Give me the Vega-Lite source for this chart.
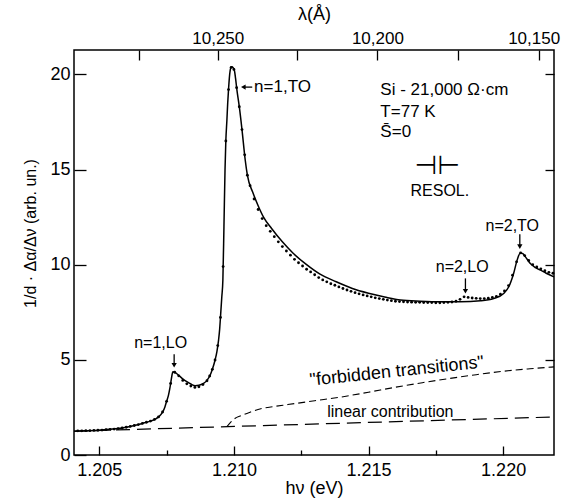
{
"$schema": "https://vega.github.io/schema/vega-lite/v6.json",
"width": 480, "height": 405,
"autosize": "none",
"padding": {"left": 74, "top": 50, "right": 7, "bottom": 46},
"background": "white",
"config": {
  "view": {"stroke": "black", "strokeWidth": 1.5},
  "font": "Liberation Sans",
  "axis": {"domain": false, "grid": false, "labelFont": "Liberation Sans", "labelFontSize": 18, "labelColor": "black", "tickColor": "black", "tickWidth": 1.3, "titleFont": "Liberation Sans", "titleFontSize": 18, "titleFontWeight": "normal", "titleColor": "black"},
  "text": {"font": "Liberation Sans", "fontSize": 16, "color": "black"}
},
"datasets": {
  "theory": [
    {"E":1.20406,"A":1.25},{"E":1.2045,"A":1.27},{"E":1.2050,"A":1.30},{"E":1.2055,"A":1.36},{"E":1.2060,"A":1.46},{"E":1.2063,"A":1.55},{"E":1.2066,"A":1.66},{"E":1.2069,"A":1.78},{"E":1.2071,"A":1.90},{"E":1.2072,"A":2.00},{"E":1.2073,"A":2.15},{"E":1.20738,"A":2.33},{"E":1.20744,"A":2.54},{"E":1.2075,"A":2.82},{"E":1.20757,"A":3.15},{"E":1.20762,"A":3.5},{"E":1.20766,"A":3.85},{"E":1.2077,"A":4.2},{"E":1.20773,"A":4.37},{"E":1.20778,"A":4.36},{"E":1.20785,"A":4.3},{"E":1.20794,"A":4.2},{"E":1.2081,"A":4.0},{"E":1.20825,"A":3.85},{"E":1.2084,"A":3.73},{"E":1.20856,"A":3.64},{"E":1.2087,"A":3.66},{"E":1.20887,"A":3.76},{"E":1.2090,"A":3.92},{"E":1.20912,"A":4.2},{"E":1.2092,"A":4.5},{"E":1.2093,"A":4.99},{"E":1.20937,"A":5.45},{"E":1.20943,"A":6.04},{"E":1.20947,"A":6.6},{"E":1.20951,"A":7.44},{"E":1.20955,"A":8.3},{"E":1.20959,"A":9.2},{"E":1.20963,"A":12.0},{"E":1.20967,"A":15.0},{"E":1.2097,"A":16.5},{"E":1.20974,"A":17.6},{"E":1.20977,"A":18.5},{"E":1.2098,"A":19.2},{"E":1.20983,"A":19.8},{"E":1.20986,"A":20.2},{"E":1.20989,"A":20.35},{"E":1.20992,"A":20.4},{"E":1.20997,"A":20.35},{"E":1.21002,"A":20.2},{"E":1.21006,"A":19.8},{"E":1.21011,"A":19.2},{"E":1.2102,"A":18.3},{"E":1.2103,"A":17.1},{"E":1.21042,"A":15.5},{"E":1.2105,"A":14.7},{"E":1.2107,"A":13.8},{"E":1.2109,"A":13.1},{"E":1.2111,"A":12.5},{"E":1.2114,"A":11.9},{"E":1.2118,"A":11.2},{"E":1.2122,"A":10.6},{"E":1.2127,"A":10.0},{"E":1.2132,"A":9.5},{"E":1.2138,"A":9.1},{"E":1.2144,"A":8.75},{"E":1.2150,"A":8.5},{"E":1.2156,"A":8.3},{"E":1.21619,"A":8.14},{"E":1.21692,"A":8.08},{"E":1.21767,"A":8.05},{"E":1.21841,"A":8.05},{"E":1.21916,"A":8.1},{"E":1.21965,"A":8.22},{"E":1.22002,"A":8.49},{"E":1.22021,"A":8.84},{"E":1.22039,"A":9.54},{"E":1.22052,"A":10.24},{"E":1.22064,"A":10.62},{"E":1.22073,"A":10.58},{"E":1.22083,"A":10.41},{"E":1.22101,"A":10.06},{"E":1.2212,"A":9.85},{"E":1.22139,"A":9.71},{"E":1.2216,"A":9.55},{"E":1.22189,"A":9.36}
  ],
  "expt": [
    {"E":1.2042,"A":1.27},{"E":1.20435,"A":1.27},{"E":1.2045,"A":1.28},{"E":1.20465,"A":1.28},{"E":1.2048,"A":1.29},{"E":1.20495,"A":1.3},{"E":1.2051,"A":1.31},{"E":1.20525,"A":1.33},{"E":1.2054,"A":1.34},{"E":1.20555,"A":1.36},{"E":1.2057,"A":1.39},{"E":1.20585,"A":1.42},{"E":1.206,"A":1.46},{"E":1.20615,"A":1.5},{"E":1.2063,"A":1.55},{"E":1.20645,"A":1.6},{"E":1.2066,"A":1.66},{"E":1.20675,"A":1.72},{"E":1.2069,"A":1.78},{"E":1.20705,"A":1.87},{"E":1.2072,"A":2.0},{"E":1.20735,"A":2.26},{"E":1.2075,"A":2.82},{"E":1.20765,"A":3.76},{"E":1.2078,"A":4.35},{"E":1.20795,"A":4.16},{"E":1.2081,"A":3.92},{"E":1.20825,"A":3.74},{"E":1.2084,"A":3.62},{"E":1.20855,"A":3.55},{"E":1.2087,"A":3.58},{"E":1.20885,"A":3.7},{"E":1.209,"A":3.9},
    {"E":1.2091,"A":4.15},{"E":1.2092,"A":4.5},{"E":1.2093,"A":4.99},{"E":1.2094,"A":5.75},{"E":1.2095,"A":7.23},{"E":1.2096,"A":9.9},{"E":1.2097,"A":16.5},{"E":1.2098,"A":19.2},{"E":1.2099,"A":20.37},{"E":1.21,"A":20.26},{"E":1.2101,"A":19.3},{"E":1.2102,"A":18.3},{"E":1.2103,"A":17.1},{"E":1.2104,"A":15.77},{"E":1.2105,"A":14.7},{"E":1.2106,"A":14.15},
    {"E":1.21075,"A":13.45},{"E":1.2109,"A":12.9},{"E":1.21105,"A":12.42},{"E":1.2112,"A":12.05},{"E":1.21135,"A":11.75},{"E":1.2115,"A":11.47},{"E":1.21165,"A":11.2},{"E":1.2118,"A":10.95},{"E":1.21195,"A":10.72},{"E":1.2121,"A":10.5},{"E":1.21225,"A":10.28},{"E":1.2124,"A":10.1},{"E":1.21255,"A":9.93},{"E":1.2127,"A":9.76},{"E":1.21285,"A":9.62},{"E":1.213,"A":9.47},{"E":1.21315,"A":9.32},{"E":1.2133,"A":9.2},{"E":1.21345,"A":9.1},{"E":1.2136,"A":9.0},{"E":1.21375,"A":8.92},{"E":1.2139,"A":8.83},{"E":1.21405,"A":8.75},{"E":1.2142,"A":8.67},{"E":1.21435,"A":8.6},{"E":1.2145,"A":8.53},{"E":1.21465,"A":8.47},{"E":1.2148,"A":8.41},{"E":1.21495,"A":8.36},{"E":1.2151,"A":8.31},{"E":1.21525,"A":8.26},{"E":1.2154,"A":8.22},{"E":1.21555,"A":8.18},{"E":1.2157,"A":8.14},{"E":1.21585,"A":8.11},{"E":1.216,"A":8.08},{"E":1.21615,"A":8.06},{"E":1.2163,"A":8.05},{"E":1.21645,"A":8.04},{"E":1.2166,"A":8.03},{"E":1.21675,"A":8.02},{"E":1.2169,"A":8.02},{"E":1.21705,"A":8.01},{"E":1.2172,"A":8.01},{"E":1.21735,"A":8.01},{"E":1.2175,"A":8.0},{"E":1.21765,"A":8.0},{"E":1.2178,"A":8.01},{"E":1.21795,"A":8.02},{"E":1.2181,"A":8.04},{"E":1.21825,"A":8.08},{"E":1.2184,"A":8.18},{"E":1.21855,"A":8.31},{"E":1.2187,"A":8.28},{"E":1.21885,"A":8.25},{"E":1.219,"A":8.23},{"E":1.21915,"A":8.22},{"E":1.2193,"A":8.22},{"E":1.21945,"A":8.24},{"E":1.2196,"A":8.28},{"E":1.21975,"A":8.33},{"E":1.2199,"A":8.45},{"E":1.22005,"A":8.62},{"E":1.2202,"A":8.9},{"E":1.22035,"A":9.45},{"E":1.2205,"A":10.15},{"E":1.22065,"A":10.62},{"E":1.2208,"A":10.48},{"E":1.22095,"A":10.22},{"E":1.2211,"A":10.0},{"E":1.22125,"A":9.88},{"E":1.2214,"A":9.78},{"E":1.22155,"A":9.68},{"E":1.2217,"A":9.6},{"E":1.22185,"A":9.55}
  ],
  "linear": [{"E":1.20406,"A":1.25},{"E":1.22189,"A":2.0}],
  "forbidden": [
    {"E":1.20974,"A":1.49},{"E":1.2099,"A":1.75},{"E":1.21005,"A":1.93},{"E":1.21023,"A":2.05},{"E":1.2106,"A":2.25},{"E":1.211,"A":2.43},{"E":1.2115,"A":2.55},{"E":1.212,"A":2.65},{"E":1.213,"A":2.85},{"E":1.214,"A":3.05},{"E":1.215,"A":3.3},{"E":1.216,"A":3.56},{"E":1.217,"A":3.8},{"E":1.218,"A":4.02},{"E":1.219,"A":4.22},{"E":1.22,"A":4.4},{"E":1.221,"A":4.53},{"E":1.22189,"A":4.63}
  ],
  "labelsCenter": [
    {"E":1.20728,"A":5.9,"t":"n=1,LO"},
    {"E":1.21848,"A":9.9,"t":"n=2,LO"},
    {"E":1.22034,"A":12.05,"t":"n=2,TO"},
    {"E":1.21581,"A":2.25,"t":"linear contribution"}
  ],
  "resol": [
    {"E":1.21755,"A":15.2,"t":"⊣⊢"}
  ],
  "resolText": [
    {"E":1.21765,"A":13.85,"t":"RESOL."}
  ],
  "labelsLeft": [
    {"E":1.21075,"A":19.33,"t":"n=1,TO"},
    {"E":1.21544,"A":19.16,"t":"Si - 21,000 Ω·cm"},
    {"E":1.21544,"A":18.02,"t":"T=77 K"},
    {"E":1.21544,"A":16.97,"t":"S̄=0"}
  ],
  "labelsTilt": [
    {"E":1.21605,"A":4.38,"t":"\"forbidden transitions\""}
  ],
  "arrowsV": [
    {"E":1.20778,"A":5.3,"A2":4.72},
    {"E":1.2186,"A":9.28,"A2":8.6},
    {"E":1.22062,"A":11.6,"A2":10.95}
  ],
  "arrowsH": [
    {"E":1.21035,"E2":1.21068,"A":19.33}
  ]
},
"resolve": {"axis": {"x": "independent", "y": "independent"}},
"layer": [
  {
    "data": {"name": "theory"},
    "mark": {"type": "line", "color": "black", "strokeWidth": 1.5, "interpolate": "monotone"},
    "encoding": {
      "x": {"field": "E", "type": "quantitative", "scale": {"domain": [1.20406, 1.22189], "nice": false, "zero": false},
        "axis": {"orient": "bottom", "values": [1.205, 1.2075, 1.21, 1.2125, 1.215, 1.2175, 1.22], "labelExpr": "abs(datum.value*200 - round(datum.value*200)) < 0.01 ? format(datum.value, '.3f') : ''",
          "tickSize": {"condition": {"test": "abs(datum.value*200 - round(datum.value*200)) > 0.01", "value": -5}, "value": -9},
          "labelPadding": 15, "title": "hν (eV)", "titlePadding": 0}},
      "y": {"field": "A", "type": "quantitative", "scale": {"domain": [0, 21.28], "nice": false, "zero": false},
        "axis": {"orient": "left", "values": [0, 5, 10, 15, 20], "tickSize": -12, "labelPadding": 16, "title": "1/d · Δα/Δν  (arb. un.)", "titleFontSize": 16, "titleX": -44, "titleY": 183, "titleAngle": -90, "titleAlign": "center", "titleBaseline": "middle"}}
    }
  },
  {
    "data": {"name": "expt"},
    "mark": {"type": "point", "filled": true, "color": "black", "size": 8, "opacity": 1},
    "encoding": {
      "x": {"field": "E", "type": "quantitative", "scale": {"domain": [1.20406, 1.22189], "nice": false, "zero": false},
        "axis": {"orient": "top", "values": [1.20646, 1.2094, 1.21236, 1.21533, 1.21832, 1.22132],
          "labelExpr": "datum.value > 1.209 && datum.value < 1.210 ? '10,250' : (datum.value > 1.215 && datum.value < 1.216 ? '10,200' : (datum.value > 1.221 ? '10,150' : ''))",
          "labelFontSize": 17,
          "labelOffset": {"condition": {"test": "datum.value > 1.221", "value": -5}, "value": 0},
          "tickSize": -10, "labelPadding": 13, "title": "λ(Å)", "titlePadding": 6}},
      "y": {"field": "A", "type": "quantitative", "scale": {"domain": [0, 21.28], "nice": false, "zero": false},
        "axis": {"orient": "right", "values": [5, 10, 15, 20], "tickSize": -9, "labels": false, "title": null}}
    }
  },
  {
    "data": {"name": "linear"},
    "mark": {"type": "line", "color": "black", "strokeWidth": 1.2, "strokeDash": [14, 7]},
    "encoding": {
      "x": {"field": "E", "type": "quantitative", "scale": {"domain": [1.20406, 1.22189], "nice": false, "zero": false}, "axis": null},
      "y": {"field": "A", "type": "quantitative", "scale": {"domain": [0, 21.28], "nice": false, "zero": false}, "axis": null}
    }
  },
  {
    "data": {"name": "forbidden"},
    "mark": {"type": "line", "color": "black", "strokeWidth": 1.1, "strokeDash": [7, 4], "interpolate": "monotone"},
    "encoding": {
      "x": {"field": "E", "type": "quantitative", "scale": {"domain": [1.20406, 1.22189], "nice": false, "zero": false}, "axis": null},
      "y": {"field": "A", "type": "quantitative", "scale": {"domain": [0, 21.28], "nice": false, "zero": false}, "axis": null}
    }
  },
  {
    "data": {"name": "arrowsV"},
    "mark": {"type": "rule", "color": "black", "strokeWidth": 1.3},
    "encoding": {
      "x": {"field": "E", "type": "quantitative", "scale": {"domain": [1.20406, 1.22189], "nice": false, "zero": false}, "axis": null},
      "y": {"field": "A", "type": "quantitative", "scale": {"domain": [0, 21.28], "nice": false, "zero": false}, "axis": null},
      "y2": {"field": "A2"}
    }
  },
  {
    "data": {"name": "arrowsV"},
    "mark": {"type": "point", "shape": "triangle-down", "filled": true, "color": "black", "size": 28, "opacity": 1},
    "encoding": {
      "x": {"field": "E", "type": "quantitative", "scale": {"domain": [1.20406, 1.22189], "nice": false, "zero": false}, "axis": null},
      "y": {"field": "A2", "type": "quantitative", "scale": {"domain": [0, 21.28], "nice": false, "zero": false}, "axis": null}
    }
  },
  {
    "data": {"name": "arrowsH"},
    "mark": {"type": "rule", "color": "black", "strokeWidth": 1.3},
    "encoding": {
      "x": {"field": "E", "type": "quantitative", "scale": {"domain": [1.20406, 1.22189], "nice": false, "zero": false}, "axis": null},
      "x2": {"field": "E2"},
      "y": {"field": "A", "type": "quantitative", "scale": {"domain": [0, 21.28], "nice": false, "zero": false}, "axis": null}
    }
  },
  {
    "data": {"name": "arrowsH"},
    "mark": {"type": "point", "shape": "triangle-left", "filled": true, "color": "black", "size": 28, "opacity": 1},
    "encoding": {
      "x": {"field": "E", "type": "quantitative", "scale": {"domain": [1.20406, 1.22189], "nice": false, "zero": false}, "axis": null},
      "y": {"field": "A", "type": "quantitative", "scale": {"domain": [0, 21.28], "nice": false, "zero": false}, "axis": null}
    }
  },
  {
    "data": {"name": "labelsCenter"},
    "mark": {"type": "text", "align": "center", "baseline": "middle", "fontSize": 16},
    "encoding": {
      "x": {"field": "E", "type": "quantitative", "scale": {"domain": [1.20406, 1.22189], "nice": false, "zero": false}, "axis": null},
      "y": {"field": "A", "type": "quantitative", "scale": {"domain": [0, 21.28], "nice": false, "zero": false}, "axis": null},
      "text": {"field": "t"}
    }
  },
  {
    "data": {"name": "resol"},
    "mark": {"type": "text", "align": "center", "baseline": "middle", "fontSize": 26, "font": "DejaVu Sans"},
    "encoding": {
      "x": {"field": "E", "type": "quantitative", "scale": {"domain": [1.20406, 1.22189], "nice": false, "zero": false}, "axis": null},
      "y": {"field": "A", "type": "quantitative", "scale": {"domain": [0, 21.28], "nice": false, "zero": false}, "axis": null},
      "text": {"field": "t"}
    }
  },
  {
    "data": {"name": "resolText"},
    "mark": {"type": "text", "align": "center", "baseline": "middle", "fontSize": 16},
    "encoding": {
      "x": {"field": "E", "type": "quantitative", "scale": {"domain": [1.20406, 1.22189], "nice": false, "zero": false}, "axis": null},
      "y": {"field": "A", "type": "quantitative", "scale": {"domain": [0, 21.28], "nice": false, "zero": false}, "axis": null},
      "text": {"field": "t"}
    }
  },
  {
    "data": {"name": "labelsLeft"},
    "mark": {"type": "text", "align": "left", "baseline": "middle", "fontSize": 17},
    "encoding": {
      "x": {"field": "E", "type": "quantitative", "scale": {"domain": [1.20406, 1.22189], "nice": false, "zero": false}, "axis": null},
      "y": {"field": "A", "type": "quantitative", "scale": {"domain": [0, 21.28], "nice": false, "zero": false}, "axis": null},
      "text": {"field": "t"}
    }
  },
  {
    "data": {"name": "labelsTilt"},
    "mark": {"type": "text", "align": "center", "baseline": "middle", "fontSize": 18, "angle": -6},
    "encoding": {
      "x": {"field": "E", "type": "quantitative", "scale": {"domain": [1.20406, 1.22189], "nice": false, "zero": false}, "axis": null},
      "y": {"field": "A", "type": "quantitative", "scale": {"domain": [0, 21.28], "nice": false, "zero": false}, "axis": null},
      "text": {"field": "t"}
    }
  }
]
}
